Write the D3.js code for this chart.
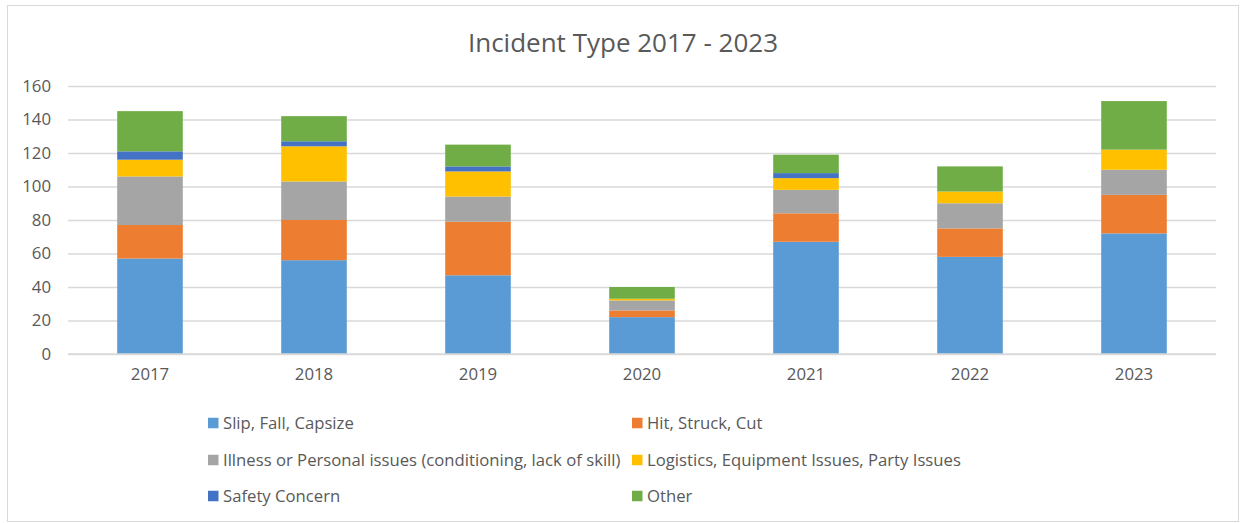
<!DOCTYPE html>
<html>
<head>
<meta charset="utf-8">
<script src="https://cdn.jsdelivr.net/npm/d3@7"></script>
<style>
  html, body { margin: 0; padding: 0; background: #fff; }
  svg { display: block; font-family: "Open Sans", sans-serif; }
</style>
</head>
<body>
<svg id="chart" width="1241" height="523"></svg>
<script>
// ---- data ----
const years = ["2017", "2018", "2019", "2020", "2021", "2022", "2023"];
const seriesNames = [
  "Slip, Fall, Capsize",
  "Hit, Struck, Cut",
  "Illness or Personal issues (conditioning, lack of skill)",
  "Logistics, Equipment Issues, Party Issues",
  "Safety Concern",
  "Other"
];
const slipFall     = [57, 56, 47, 22, 67, 58, 72];
const hitStruck    = [20, 24, 32, 4, 17, 17, 23];
const illness      = [29, 23, 15, 6, 14, 15, 15];
const logistics    = [10, 21, 15, 1, 7, 7, 12];
const safety       = [5, 3, 3, 0, 3, 0, 0];
const other        = [24, 15, 13, 7, 11, 15, 29];
const yTicks = [0, 20, 40, 60, 80, 100, 120, 140, 160];
const colors = ["#5B9BD5", "#ED7D31", "#A5A5A5", "#FFC000", "#4472C4", "#70AD47"];

const seriesValues = [slipFall, hitStruck, illness, logistics, safety, other];
const keys = seriesNames;
const table = years.map((y, i) => {
  const row = { year: y };
  keys.forEach((k, j) => row[k] = seriesValues[j][i]);
  return row;
});

// ---- layout ----
const svg = d3.select("#chart");
const textColor = "#595959";

svg.append("rect")
  .attr("x", 7.5).attr("y", 5.5)
  .attr("width", 1231).attr("height", 516)
  .attr("fill", "#fff").attr("stroke", "#D9D9D9").attr("stroke-width", 1);

const x = d3.scaleBand().domain(years).range([68, 1216]).paddingInner(0.6).paddingOuter(0.3);
const y = d3.scaleLinear().domain([0, 160]).range([354, 86]);

// title
svg.append("text")
  .attr("x", 623).attr("y", 52)
  .attr("text-anchor", "middle")
  .attr("font-size", 26)
  .attr("fill", textColor)
  .text("Incident Type 2017 - 2023");

// gridlines
const yAxis = d3.axisLeft(y).tickValues(yTicks).tickSize(-(1216 - 68)).tickPadding(17);
const gy = svg.append("g").attr("transform", "translate(68,0)").call(yAxis);
gy.select(".domain").remove();
gy.selectAll(".tick line").attr("stroke", "#D9D9D9").attr("stroke-width", 1.5);
gy.selectAll(".tick text").attr("fill", textColor).attr("font-size", 16.8)
  .attr("font-family", "'Open Sans', sans-serif");

// bars
const stack = d3.stack().keys(keys);
const stacked = stack(table);
svg.append("g").selectAll("g")
  .data(stacked)
  .join("g")
  .attr("fill", (d, i) => colors[i])
  .selectAll("rect")
  .data(d => d)
  .join("rect")
  .attr("x", d => x(d.data.year))
  .attr("width", x.bandwidth())
  .attr("y", d => y(d[1]))
  .attr("height", d => y(d[0]) - y(d[1]));

// x axis
const xAxis = d3.axisBottom(x).tickSize(0).tickPadding(14);
const gx = svg.append("g").attr("transform", "translate(0,354)").call(xAxis);
gx.select(".domain").attr("stroke", "#D9D9D9").attr("stroke-width", 1.5)
  .attr("d", "M68,0H1216");
gx.selectAll(".tick text").attr("fill", textColor).attr("font-size", 16.8)
  .attr("font-family", "'Open Sans', sans-serif");

// legend
const legendPos = [
  [208, 423], [632, 423],
  [208, 460], [632, 460],
  [208, 496], [632, 496]
];
const lg = svg.append("g");
keys.forEach((k, i) => {
  const [lx, ly] = legendPos[i];
  lg.append("rect")
    .attr("x", lx).attr("y", ly - 5.25)
    .attr("width", 10.5).attr("height", 10.5)
    .attr("fill", colors[i]);
  lg.append("text")
    .attr("x", lx + 15).attr("y", ly)
    .attr("dy", "0.35em")
    .attr("font-size", 16.7)
    .attr("fill", textColor)
    .text(k);
});
</script>
</body>
</html>
